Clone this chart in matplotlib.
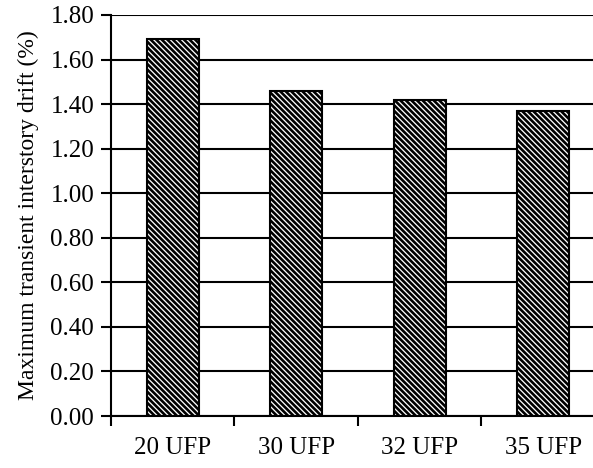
# bar chart of max transient interstory drift for different UFP counts

import matplotlib
matplotlib.use("Agg")
import matplotlib.pyplot as plt
import numpy as np

categories = ["20 UFP", "30 UFP", "32 UFP", "35 UFP"]
drift = [1.69, 1.46, 1.42, 1.37]
yticks = [0.0, 0.2, 0.4, 0.6, 0.8, 1.0, 1.2, 1.4, 1.6, 1.8]

plt.rcParams['font.family'] = ['Liberation Serif', 'DejaVu Serif']
plt.rcParams['font.size'] = 18
plt.rcParams['hatch.linewidth'] = 1.9
plt.rcParams['hatch.color'] = 'black'

fig = plt.figure(figsize=(5.93, 4.68), dpi=100)
ax = fig.add_axes([0.187, 0.111, 1.02 - 0.187, 0.968 - 0.111])

x = np.arange(len(categories))
ax.set_axisbelow(True)
ax.yaxis.grid(True, color='black', linewidth=1.5)
ax.bar(x, drift, width=0.42, color='white', edgecolor='black',
       linewidth=1.5, hatch='\\\\\\\\\\\\', zorder=3)

ax.set_xlim(-0.5, 3.5)
ax.set_ylim(0, 1.8)
ax.set_yticks(yticks)
ax.set_yticklabels([f"{v:.2f}" for v in yticks])
ax.set_xticks(x)
ax.set_xticklabels(categories)
# ticks at category boundaries
ax.set_xticks(np.arange(-0.5, 3.0, 1.0), minor=True)
ax.tick_params(axis='x', which='major', length=0, pad=15)
ax.tick_params(axis='x', which='minor', length=7, width=1.5, direction='out')
ax.tick_params(axis='y', length=7, width=1.5, direction='out', pad=5)

for s in ['top', 'right']:
    ax.spines[s].set_visible(False)
for s in ['left', 'bottom']:
    ax.spines[s].set_linewidth(1.5)

ax.set_ylabel("Maximum transient interstory drift (%)", fontsize=17, labelpad=8)

fig.savefig("out.png", dpi=100)
